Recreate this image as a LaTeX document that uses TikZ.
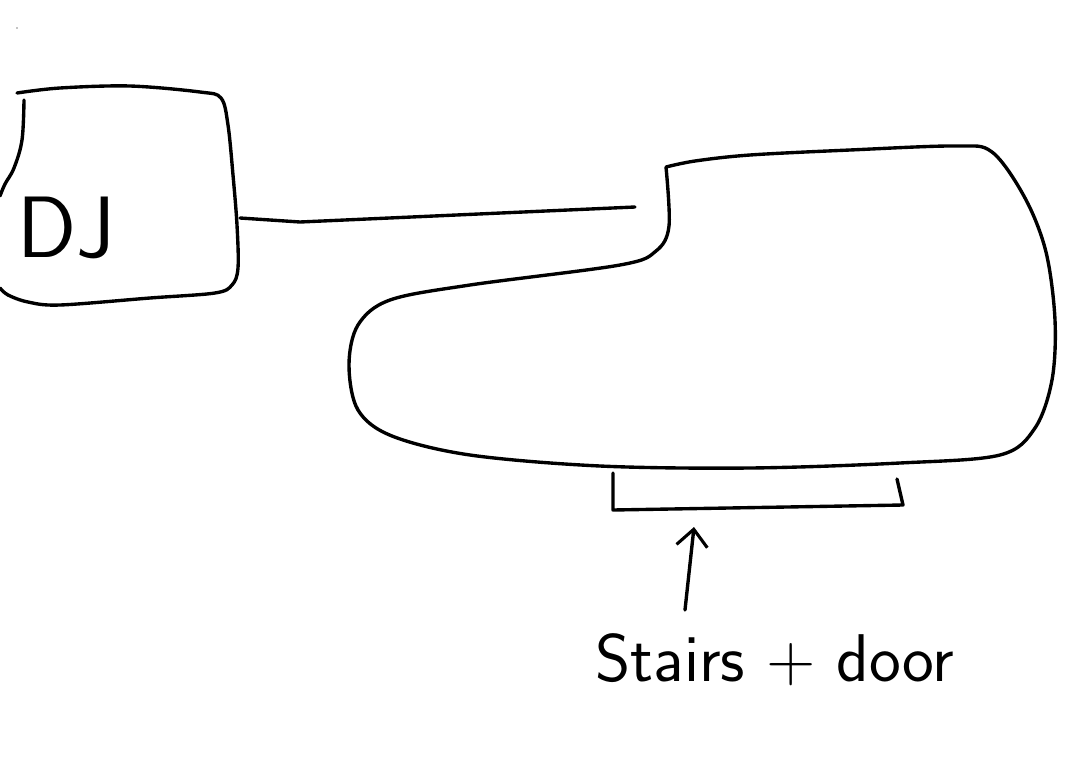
\documentclass[tikz,border=0pt]{standalone}
\usepackage{tikz}
\usetikzlibrary{arrows.meta,positioning,calc}

\begin{document}
\begin{tikzpicture}[
    x=0.025cm, y=-0.025cm,
    pen/.style={line width=2.4pt, line cap=round, line join=round, black},
    arrow/.style={pen, -{Straight Barb[length=12pt, width=22pt, line width=2.2pt]}},
    label/.style={font=\sffamily\fontsize{48}{54}\selectfont, inner sep=0pt},
]
\useasboundingbox (0,0) rectangle (1068,764);

% speck top left
\fill (17,28) circle (0.6);

% DJ booth
\draw[pen] plot[smooth, tension=0.6] coordinates {(24,100) (22,140) (14,168) (5,184) (0,196)};
\draw[pen] plot[smooth, tension=0.55] coordinates {(17,93) (60,88) (130,86) (200,92) (221,98) (228,125) (233,175) (237,225) (238,268) (232,285) (215,293) (150,298) (60,305) (28,302) (8,295) (0,288)};
\node[label, font=\sffamily\fontsize{62}{66}\selectfont] (dj) at (66,228) {DJ};

% hall
\draw[pen] plot[smooth, tension=0.55] coordinates {(666,167) (669,226) (656,251) (620,265) (470,285) (390,300) (358,325) (349,365) (358,410) (392,436) (470,455) (600,466) (750,468) (900,463) (1000,455) (1035,428) (1052,380) (1055,320) (1046,252) (1025,198) (992,152) (955,146) (850,150) (750,155) (695,161) (666,167)};

% cable DJ -> hall
\coordinate (djport) at (240,218);
\coordinate (hallport) at (635,207);
\draw[pen] (djport) -- (300,222) -- (hallport);

% stairs
\coordinate (stairsL) at (613,473);
\coordinate (stairsR) at (897,479);
\draw[pen] (stairsL) -- (613,510) -- (903,505) -- (stairsR);
\coordinate (stairs) at (694,527);

% label
\node[label] (door) at (775,660) {Stairs + door};
\coordinate (arrowfoot) at (685,610);
\draw[arrow] (arrowfoot) -- (stairs);

\end{tikzpicture}
\end{document}
